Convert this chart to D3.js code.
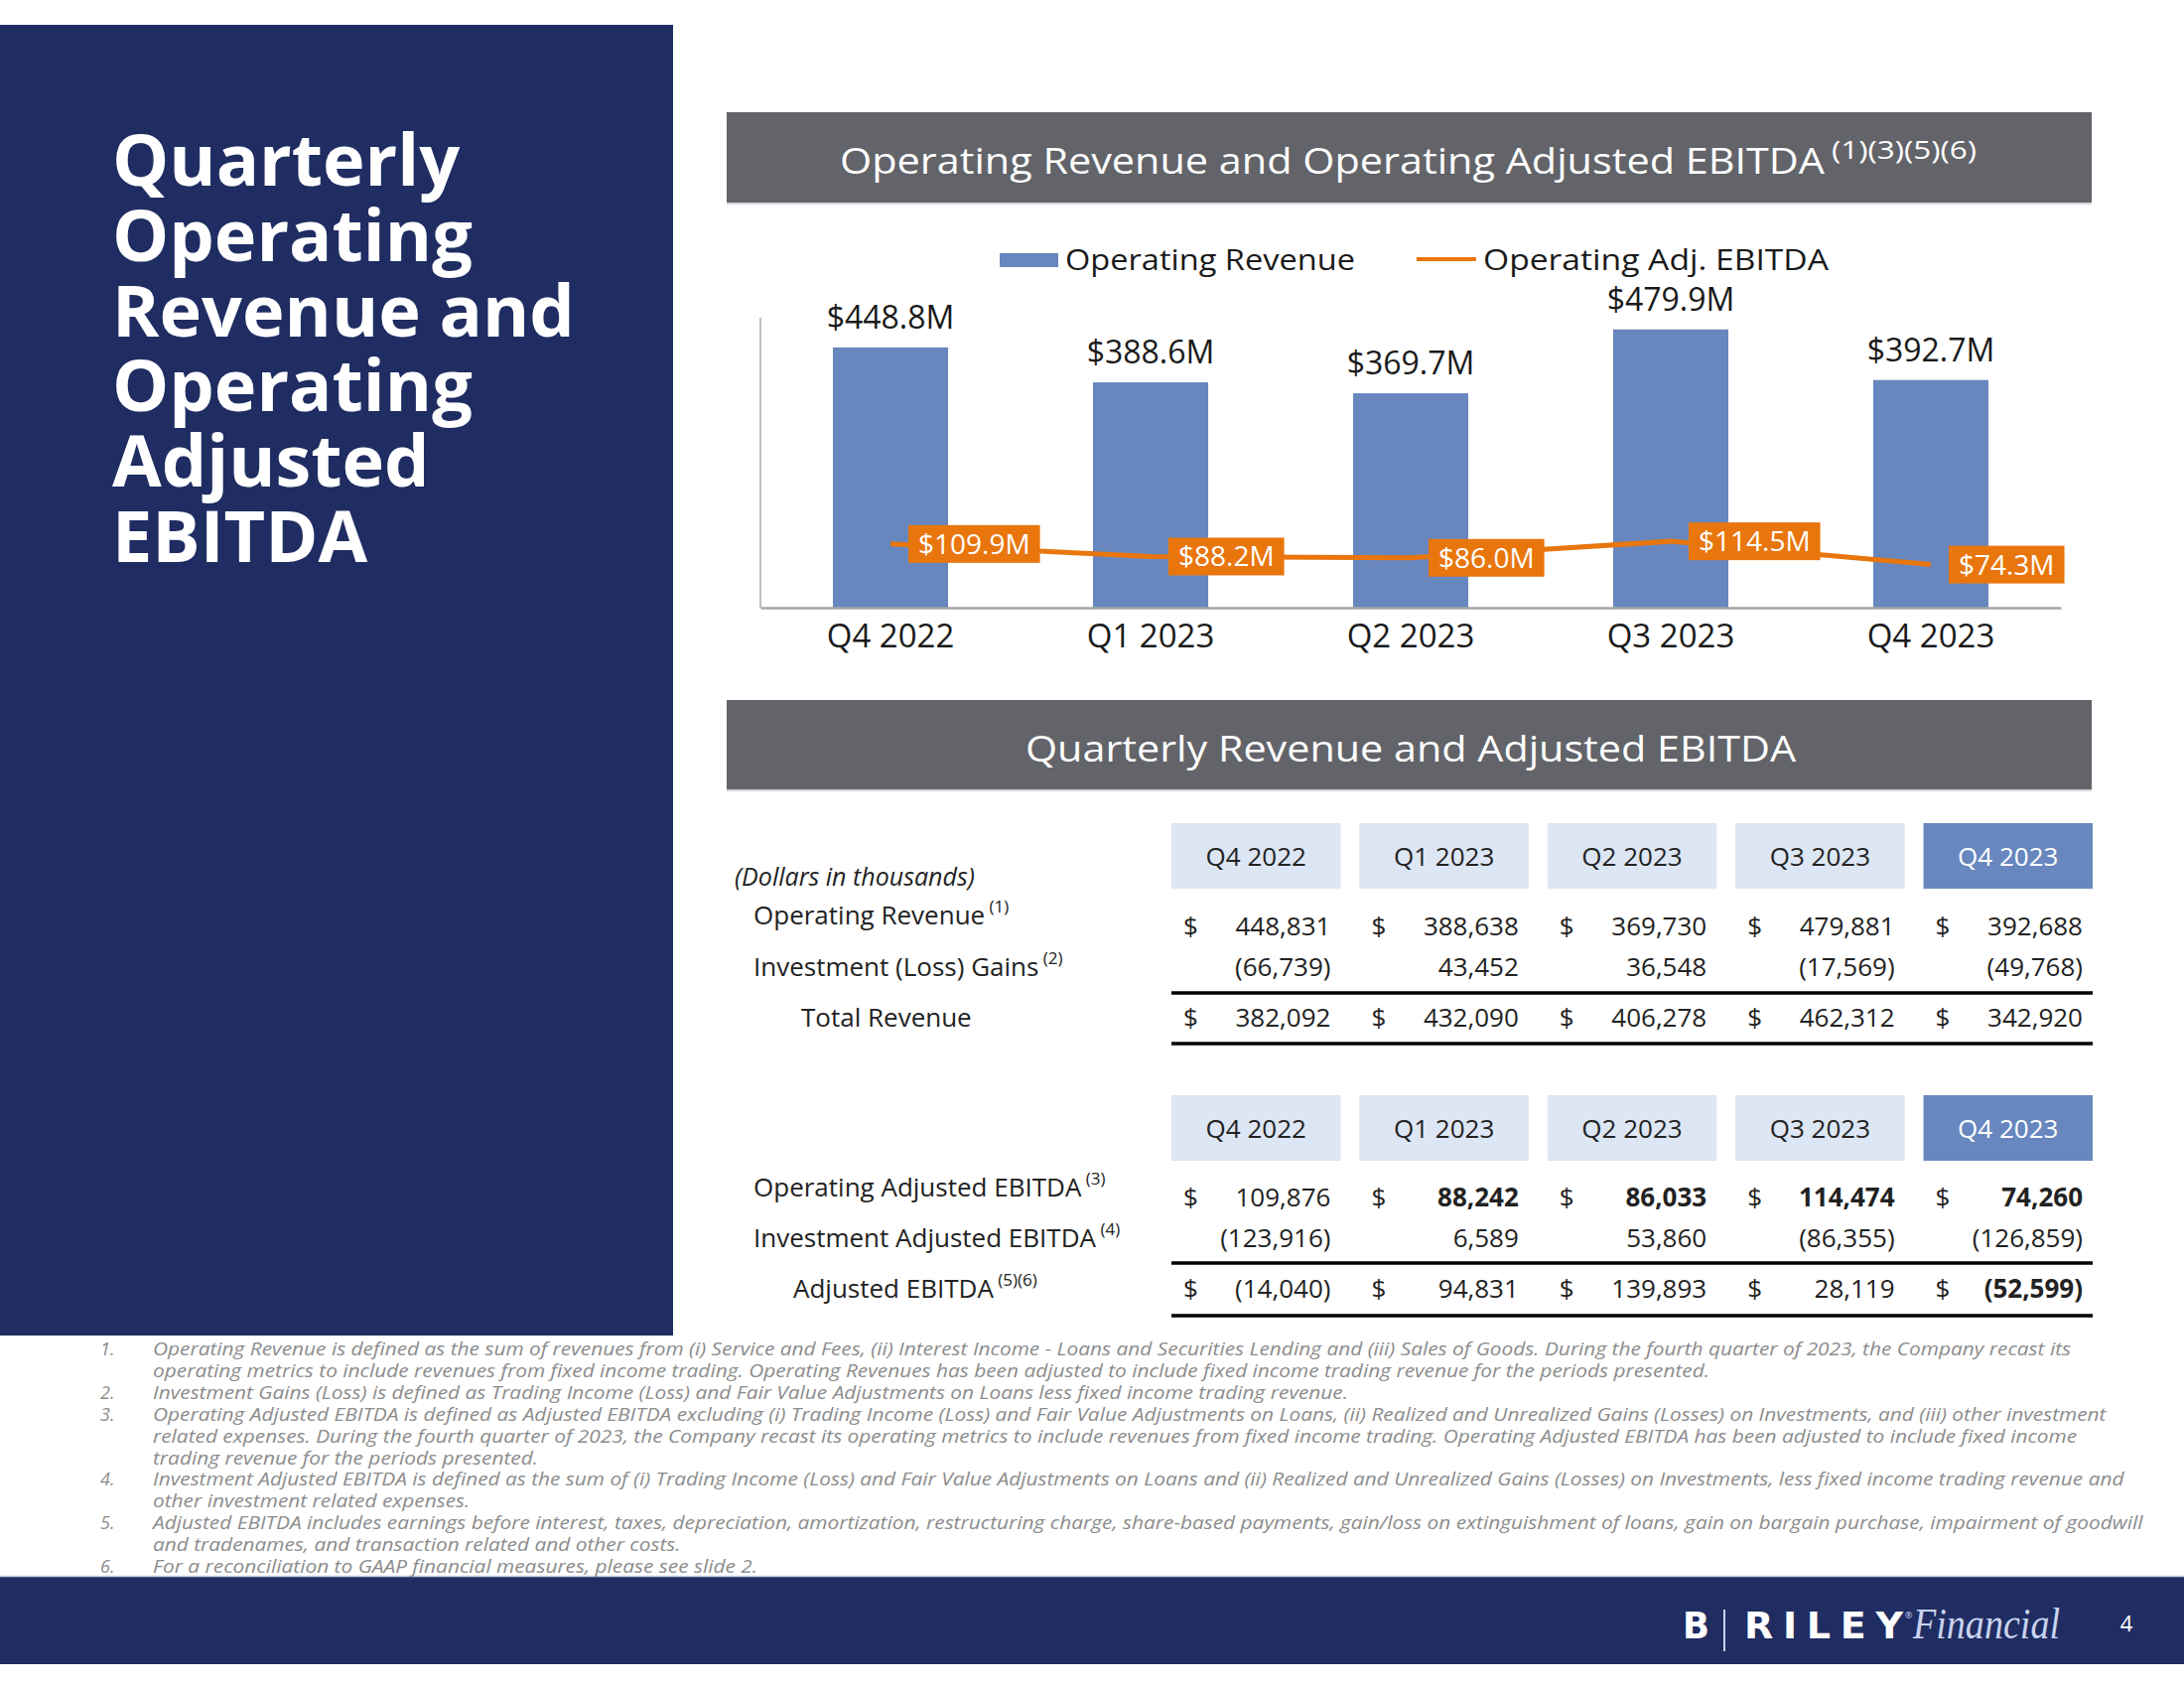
<!DOCTYPE html>
<html>
<head>
<meta charset="utf-8">
<script src="https://cdn.jsdelivr.net/npm/d3@7"></script>
<style>
  body { margin: 0; background: #fff; }
  svg { font-family: "Open Sans", sans-serif; }
</style>
</head>
<body>
<svg id="slide" width="2200" height="1700"></svg>
<script>
// chart data (millions)
var quarters = ["Q4 2022", "Q1 2023", "Q2 2023", "Q3 2023", "Q4 2023"];
var opRevenueM = [448.8, 388.6, 369.7, 479.9, 392.7];
var opAdjEbitdaM = [109.9, 88.2, 86.0, 114.5, 74.3];

// table data (thousands)
var opRevenue = [448831, 388638, 369730, 479881, 392688];
var invGains = [-66739, 43452, 36548, -17569, -49768];
var totalRevenue = [382092, 432090, 406278, 462312, 342920];
var opAdjEbitda = [109876, 88242, 86033, 114474, 74260];
var invAdjEbitda = [-123916, 6589, 53860, -86355, -126859];
var adjEbitda = [-14040, 94831, 139893, 28119, -52599];

var titleLines = ["Quarterly", "Operating", "Revenue and", "Operating", "Adjusted", "EBITDA"];

var footnotes = [
  ["1.", ["Operating Revenue is defined as the sum of revenues from (i) Service and Fees, (ii) Interest Income - Loans and Securities Lending and (iii) Sales of Goods. During the fourth quarter of 2023, the Company recast its",
          "operating metrics to include revenues from fixed income trading. Operating Revenues has been adjusted to include fixed income trading revenue for the periods presented."]],
  ["2.", ["Investment Gains (Loss) is defined as Trading Income (Loss) and Fair Value Adjustments on Loans less fixed income trading revenue."]],
  ["3.", ["Operating Adjusted EBITDA is defined as Adjusted EBITDA excluding (i) Trading Income (Loss) and Fair Value Adjustments on Loans, (ii) Realized and Unrealized Gains (Losses) on Investments, and (iii) other investment",
          "related expenses. During the fourth quarter of 2023, the Company recast its operating metrics to include revenues from fixed income trading. Operating Adjusted EBITDA has been adjusted to include fixed income",
          "trading revenue for the periods presented."]],
  ["4.", ["Investment Adjusted EBITDA is defined as the sum of (i) Trading Income (Loss) and Fair Value Adjustments on Loans and (ii) Realized and Unrealized Gains (Losses) on Investments, less fixed income trading revenue and",
          "other investment related expenses."]],
  ["5.", ["Adjusted EBITDA includes earnings before interest, taxes, depreciation, amortization, restructuring charge, share-based payments, gain/loss on extinguishment of loans, gain on bargain purchase, impairment of goodwill",
          "and tradenames, and transaction related and other costs."]],
  ["6.", ["For a reconciliation to GAAP financial measures, please see slide 2."]]
];

var navy = "#1f2d62", gray = "#626469", blue = "#6787be", orange = "#e8760d", lightCell = "#dde6f4";

var svg = d3.select("#slide");

// left panel
svg.append("rect").attr("x", 0).attr("y", 25).attr("width", 678).attr("height", 1320).attr("fill", navy);
svg.append("text")
    .attr("fill", "#fff").attr("font-weight", 700).attr("font-size", 72)
  .selectAll("tspan").data(titleLines).enter().append("tspan")
    .attr("x", 113)
    .attr("y", function(d, i) { return 187 + i * 75.8; })
    .text(function(d) { return d; });

// footer bar
svg.append("rect").attr("x", 0).attr("y", 1587).attr("width", 2200).attr("height", 89).attr("fill", navy);
svg.append("line").attr("x1", 0).attr("x2", 2200).attr("y1", 1587.5).attr("y2", 1587.5)
    .attr("stroke", "#c7cde2").attr("stroke-width", 1.5);

// logo
svg.append("text").attr("x", 1695).attr("y", 1650).attr("fill", "#fff")
    .style("font-family", "DejaVu Sans").attr("font-weight", 700).attr("font-size", 38)
    .attr("textLength", 27).attr("lengthAdjust", "spacingAndGlyphs").text("B");
svg.append("line").attr("x1", 1737).attr("x2", 1737).attr("y1", 1621).attr("y2", 1663)
    .attr("stroke", "#c9d3ef").attr("stroke-width", 2);
svg.append("text").attr("x", 1757).attr("y", 1650).attr("fill", "#fff")
    .style("font-family", "DejaVu Sans").attr("font-weight", 700).attr("font-size", 38)
    .attr("textLength", 160).attr("lengthAdjust", "spacing").text("RILEY");
svg.append("text").attr("x", 1919).attr("y", 1630).attr("fill", "#c9d3ef")
    .attr("font-size", 9).text("®");
svg.append("text").attr("x", 1927).attr("y", 1650).attr("fill", "#c9d3ef")
    .style("font-family", "Liberation Serif").attr("font-style", "italic").attr("font-size", 44)
    .attr("textLength", 148).attr("lengthAdjust", "spacingAndGlyphs").text("Financial");
svg.append("text").attr("x", 2142).attr("y", 1643).attr("fill", "#fff")
    .attr("text-anchor", "middle").attr("font-size", 22).text("4");

// section header helper
function header(y0, h, label, lx, lw, sup, sx) {
  svg.append("rect").attr("x", 732).attr("y", y0).attr("width", 1375).attr("height", h).attr("fill", gray);
  svg.append("line").attr("x1", 732).attr("x2", 2107).attr("y1", y0 + h).attr("y2", y0 + h)
      .attr("stroke", "#d5d7db").attr("stroke-width", 2);
  svg.append("text").attr("x", lx).attr("y", y0 + h / 2 + 16)
      .attr("fill", "#fff").attr("font-size", 36)
      .attr("textLength", lw).attr("lengthAdjust", "spacingAndGlyphs").text(label);
  if (sup) {
    svg.append("text").attr("x", sx).attr("y", y0 + h / 2 + 1)
        .attr("fill", "#fff").attr("font-size", 25)
        .attr("textLength", 146).attr("lengthAdjust", "spacingAndGlyphs").text(sup);
  }
}

header(113, 92, "Operating Revenue and Operating Adjusted EBITDA", 846, 992, "(1)(3)(5)(6)", 1845);
header(705, 91, "Quarterly Revenue and Adjusted EBITDA", 1033, 776);

// legend
svg.append("rect").attr("x", 1007).attr("y", 255).attr("width", 59).attr("height", 14).attr("fill", blue);
svg.append("text").attr("x", 1073).attr("y", 272).attr("font-size", 30).attr("fill", "#1a1a1a")
    .attr("textLength", 292).attr("lengthAdjust", "spacingAndGlyphs").text("Operating Revenue");
svg.append("line").attr("x1", 1427).attr("x2", 1487).attr("y1", 261).attr("y2", 261)
    .attr("stroke", orange).attr("stroke-width", 4);
svg.append("text").attr("x", 1494).attr("y", 272).attr("font-size", 30).attr("fill", "#1a1a1a")
    .attr("textLength", 348).attr("lengthAdjust", "spacingAndGlyphs").text("Operating Adj. EBITDA");

// bar + line chart
var x = d3.scaleBand().domain(quarters).range([766, 2076]).paddingInner(0.557).paddingOuter(0.2786);
var y = d3.scaleLinear().domain([0, 500]).range([612, 320]);

svg.append("line").attr("x1", 766).attr("x2", 766).attr("y1", y(500)).attr("y2", y(0))
    .attr("stroke", "#bfbfbf").attr("stroke-width", 2);

svg.selectAll(".bar").data(quarters).enter().append("rect")
    .attr("class", "bar")
    .attr("x", function(d) { return x(d); })
    .attr("width", x.bandwidth())
    .attr("y", function(d, i) { return y(opRevenueM[i]); })
    .attr("height", function(d, i) { return y(0) - y(opRevenueM[i]); })
    .attr("fill", blue);

svg.selectAll(".barlab").data(quarters).enter().append("text")
    .attr("class", "barlab")
    .attr("x", function(d) { return x(d) + x.bandwidth() / 2; })
    .attr("y", function(d, i) { return y(opRevenueM[i]) - 19; })
    .attr("text-anchor", "middle").attr("font-size", 32).attr("fill", "#1a1a1a")
    .text(function(d, i) { return "$" + opRevenueM[i].toFixed(1) + "M"; });

var xAxis = svg.append("g").attr("transform", "translate(0," + y(0) + ")")
    .call(d3.axisBottom(x).tickSize(0).tickPadding(17));
xAxis.select(".domain").attr("stroke", "#a6a6a6").attr("stroke-width", 2.5);
xAxis.selectAll("text").attr("font-size", 33).attr("fill", "#1a1a1a")
    .style("font-family", "Open Sans, sans-serif");

var line = d3.line()
    .x(function(d, i) { return x(quarters[i]) + x.bandwidth() / 2; })
    .y(function(d) { return y(d); });
svg.append("path").datum(opAdjEbitdaM).attr("d", line)
    .attr("fill", "none").attr("stroke", orange).attr("stroke-width", 5);

var ebLab = svg.selectAll(".eblab").data(opAdjEbitdaM).enter().append("g").attr("class", "eblab")
    .attr("transform", function(d, i) {
      return "translate(" + (x(quarters[i]) + x.bandwidth() / 2 + 18) + "," + y(d) + ")";
    });
ebLab.append("rect").attr("fill", orange);
ebLab.append("text").attr("x", 10).attr("y", 10).attr("font-size", 28).attr("fill", "#fff")
    .text(function(d) { return "$" + d.toFixed(1) + "M"; });
ebLab.each(function() {
  var g = d3.select(this);
  var w = g.select("text").node().getComputedTextLength();
  g.select("rect").attr("x", 0).attr("y", -19).attr("width", w + 20).attr("height", 38);
});

// tables
var col = d3.scaleBand().domain(quarters).range([1180, 2108]).paddingInner(0.1);
var num = d3.format(",");
function fmt(v) { return v < 0 ? "(" + num(-v) + ")" : num(v); }

function table(top, rows) {
  svg.append("g").selectAll("rect").data(quarters).enter().append("rect")
      .attr("x", function(d) { return col(d); })
      .attr("y", top).attr("width", col.bandwidth()).attr("height", 66)
      .attr("fill", function(d, i) { return i === quarters.length - 1 ? blue : lightCell; });
  svg.append("g").selectAll("text").data(quarters).enter().append("text")
      .attr("x", function(d) { return col(d) + col.bandwidth() / 2; })
      .attr("y", top + 43).attr("text-anchor", "middle").attr("font-size", 26)
      .attr("fill", function(d, i) { return i === quarters.length - 1 ? "#fff" : "#222"; })
      .text(function(d) { return d; });

  rows.forEach(function(r) {
    var lab = svg.append("text").attr("x", r.lx).attr("y", r.ly + 9)
        .attr("font-size", 26).attr("fill", "#222");
    lab.append("tspan").text(r.label);
    if (r.sup) lab.append("tspan").attr("font-size", 17).attr("dy", -12).text(" " + r.sup);

    var g = svg.append("g");
    if (r.dollar) {
      g.selectAll(".d").data(quarters).enter().append("text")
          .attr("x", function(d) { return col(d) + 12; })
          .attr("y", r.vy + 9).attr("font-size", 26).attr("fill", "#222").text("$");
    }
    g.selectAll(".v").data(r.values).enter().append("text")
        .attr("x", function(d, i) { return col(quarters[i]) + col.bandwidth() - 10; })
        .attr("y", r.vy + 9).attr("text-anchor", "end").attr("font-size", 26).attr("fill", "#222")
        .attr("font-weight", function(d, i) { return r.bold && r.bold[i] ? 700 : 400; })
        .text(fmt);
    if (r.ruleBelow) {
      r.ruleBelow.forEach(function(ry) {
        svg.append("line").attr("x1", 1180).attr("x2", 2108).attr("y1", ry).attr("y2", ry)
            .attr("stroke", "#000").attr("stroke-width", 3.5);
      });
    }
  });
}

svg.append("text").attr("x", 740).attr("y", 892).attr("font-size", 25).attr("font-style", "italic")
    .attr("fill", "#222").text("(Dollars in thousands)");

table(829, [
  { label: "Operating Revenue", sup: "(1)", lx: 759, ly: 922, vy: 933, values: opRevenue, dollar: true },
  { label: "Investment (Loss) Gains", sup: "(2)", lx: 759, ly: 974, vy: 974, values: invGains, ruleBelow: [1000] },
  { label: "Total Revenue", lx: 807, ly: 1025, vy: 1025, values: totalRevenue, dollar: true, ruleBelow: [1051] }
]);

table(1103, [
  { label: "Operating Adjusted EBITDA", sup: "(3)", lx: 759, ly: 1196, vy: 1206, values: opAdjEbitda, dollar: true,
    bold: [false, true, true, true, true] },
  { label: "Investment Adjusted EBITDA", sup: "(4)", lx: 759, ly: 1247, vy: 1247, values: invAdjEbitda, ruleBelow: [1272] },
  { label: "Adjusted EBITDA", sup: "(5)(6)", lx: 799, ly: 1298, vy: 1298, values: adjEbitda, dollar: true,
    bold: [false, false, false, false, true], ruleBelow: [1325] }
]);

// footnotes: widened to the reference's line length (first line spans 154..2086)
var fn = svg.append("g").attr("font-size", 18).attr("font-style", "italic").attr("fill", "#8c8c8c");
var lineNo = 0, fnTexts = [];
footnotes.forEach(function(f) {
  fn.append("text").attr("x", 101).attr("y", 1365 + lineNo * 21.9).text(f[0]);
  f[1].forEach(function(s) {
    fnTexts.push(fn.append("text").attr("x", 154).attr("y", 1365 + lineNo * 21.9).text(s));
    lineNo++;
  });
});
var k = 1932 / fnTexts[0].node().getComputedTextLength();
fnTexts.forEach(function(t) {
  t.attr("textLength", t.node().getComputedTextLength() * k).attr("lengthAdjust", "spacingAndGlyphs");
});
</script>
</body>
</html>
